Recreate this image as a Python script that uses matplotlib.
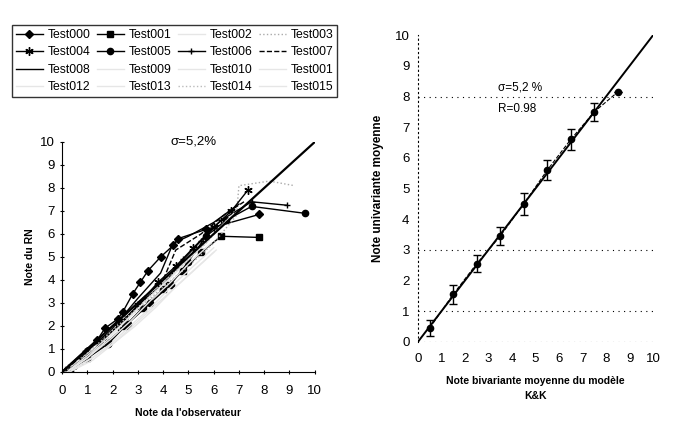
import matplotlib
matplotlib.use('Agg')
import matplotlib.pyplot as plt

plt.rcParams['font.family'] = ['Liberation Sans', 'DejaVu Sans']

# left panel: network score vs observer score, one series per test
series_names = ['Test000', 'Test001', 'Test002', 'Test003', 'Test004', 'Test005',
                'Test006', 'Test007', 'Test008', 'Test009', 'Test010', 'Test001',
                'Test012', 'Test013', 'Test014', 'Test015']
series_x = [
    [0.1, 0.5, 1.0, 1.4, 1.7, 2.2, 2.4, 2.8, 3.1, 3.4, 3.9, 4.4, 4.6, 5.7, 7.8],
    [0.3, 1.0, 1.8, 2.5, 3.2, 4.0, 4.8, 5.5, 6.3, 7.8],
    [0.2, 1.0, 2.0, 3.0, 4.0, 5.0, 6.0, 7.0],
    [0.0, 1.0, 2.0, 3.0, 4.0, 5.0, 6.0, 6.9, 7.0, 8.2, 9.2],
    [0.3, 0.8, 1.5, 2.2, 3.0, 3.8, 4.5, 5.2, 6.0, 6.7, 7.35],
    [0.2, 1.0, 1.8, 2.6, 3.5, 4.3, 5.0, 5.7, 6.5, 7.5, 9.6],
    [0.1, 0.9, 1.7, 2.5, 3.3, 4.1, 4.8, 5.5, 6.3, 7.5, 8.9],
    [0.2, 1.0, 2.0, 3.0, 4.0, 4.5, 5.5, 6.5, 7.2],
    [0.1, 1.0, 2.0, 3.0, 3.9, 4.4, 5.0, 6.0, 7.0],
    [0.3, 1.2, 2.0, 2.8, 3.6, 4.4, 5.2, 6.0],
    [0.2, 1.1, 1.9, 2.7, 3.5, 4.3, 5.1, 5.9],
    [0.4, 1.3, 2.1, 2.9, 3.7, 4.5, 5.3, 6.1],
    [0.2, 1.0, 1.8, 2.6, 3.4, 4.2, 5.0, 5.8],
    [0.3, 1.1, 1.9, 2.7, 3.5, 4.3, 5.1, 5.9, 6.8],
    [0.1, 0.9, 1.7, 2.5, 3.3, 4.1, 4.9, 5.7, 6.6],
    [0.3, 1.2, 2.0, 2.8, 3.6, 4.4, 5.2, 6.0],
]
series_y = [
    [0.0, 0.3, 0.9, 1.4, 1.9, 2.3, 2.6, 3.4, 3.9, 4.4, 5.0, 5.5, 5.8, 6.2, 6.85],
    [0.0, 0.6, 1.3, 2.0, 2.8, 3.6, 4.4, 5.2, 5.9, 5.85],
    [0.1, 0.8, 1.7, 2.8, 3.9, 5.0, 6.0, 7.0],
    [0.1, 0.9, 1.8, 2.7, 3.7, 4.6, 5.6, 6.8, 8.1, 8.3, 8.1],
    [0.1, 0.5, 1.2, 2.0, 2.9, 3.9, 4.6, 5.4, 6.3, 7.0, 7.9],
    [0.0, 0.6, 1.2, 2.1, 3.0, 3.8, 4.8, 5.9, 6.6, 7.2, 6.9],
    [0.1, 0.9, 1.5, 2.3, 3.2, 3.9, 4.9, 5.7, 6.6, 7.4, 7.25],
    [0.1, 1.0, 2.0, 3.0, 4.0, 5.3, 6.0, 6.9, 7.4],
    [0.1, 0.9, 1.9, 3.2, 4.3, 5.6, 5.9, 6.5, 7.3],
    [0.0, 0.6, 1.3, 2.1, 2.9, 3.8, 4.6, 5.4],
    [0.0, 0.7, 1.4, 2.2, 3.1, 3.9, 4.8, 5.6],
    [0.1, 0.7, 1.3, 2.0, 2.8, 3.7, 4.5, 5.3],
    [0.0, 0.6, 1.4, 2.3, 3.2, 4.0, 4.9, 5.7],
    [0.1, 0.8, 1.6, 2.4, 3.3, 4.1, 5.0, 5.9, 6.9],
    [0.0, 0.7, 1.5, 2.3, 3.1, 4.0, 4.8, 5.6, 6.7],
    [0.0, 0.5, 1.2, 2.0, 2.8, 3.6, 4.4, 5.2],
]
series_marker = ['D', 's', '', '', (6, 2, 0), 'o', '+', '', '', '', '', '', '', '', '', '']
series_style = ['-', '-', '-', ':', '-', '-', '-', '--', '-', '-', '-', '-', '-', '-', ':', '-']
series_color = ['black', 'black', '#e6e6e6', '#aaaaaa', 'black', 'black', 'black',
                'black', 'black', '#e6e6e6', '#e6e6e6', '#e6e6e6', '#e6e6e6',
                '#e6e6e6', '#bbbbbb', '#e6e6e6']

# right panel: mean univariate score vs mean bivariate score
kk_x = [0.5, 1.5, 2.5, 3.5, 4.5, 5.5, 6.5, 7.5, 8.5]
kk_y = [0.45, 1.55, 2.55, 3.45, 4.5, 5.6, 6.6, 7.5, 8.15]
kk_err = [0.25, 0.3, 0.28, 0.3, 0.35, 0.32, 0.33, 0.3, 0.0]
ref_line = [0, 10]
grid_levels = [0, 1, 3, 8]
ticks = list(range(0, 11))

fig = plt.figure(figsize=(6.74, 4.29), dpi=100)

ax1 = fig.add_axes([0.092, 0.133, 0.375, 0.536])
handles = []
for i, name in enumerate(series_names):
    h, = ax1.plot(series_x[i], series_y[i], linestyle=series_style[i],
                  color=series_color[i], marker=series_marker[i],
                  markersize=4.5 if series_marker[i] != (6, 2, 0) else 6,
                  linewidth=1.0, label=name)
    handles.append(h)
ax1.plot(ref_line, ref_line, color='black', linewidth=1.6)
ax1.set_xlim(0, 10)
ax1.set_ylim(0, 10)
ax1.set_xticks(ticks)
ax1.set_yticks(ticks)
ax1.spines['top'].set_visible(False)
ax1.spines['right'].set_visible(False)
ax1.tick_params(labelsize=9.5, length=3, direction='inout')
ax1.tick_params(axis='x', pad=8)
ax1.set_xlabel("Note da l'observateur", fontsize=7.5, fontweight='bold', labelpad=8)
ax1.set_ylabel('Note du RN', fontsize=7.5, fontweight='bold', labelpad=4)
ax1.text(5.2, 10.0, '\u03c3=5,2%', ha='center', va='center', fontsize=9.5)

# legend is filled row by row in the reference, matplotlib fills by column
ncol = 4
order = [r * ncol + c for c in range(ncol) for r in range(len(series_names) // ncol)]
fig.legend(handles=[handles[k] for k in order], labels=[series_names[k] for k in order],
           ncol=ncol, loc='lower left',
           bbox_to_anchor=(0.018, 0.774, 0.482, 0.203), mode='expand',
           fontsize=8.8, frameon=True, fancybox=False, edgecolor='black',
           handlelength=2.2, handletextpad=0.4, columnspacing=0.6,
           borderaxespad=0, labelspacing=0.45, borderpad=0.3)

ax2 = fig.add_axes([0.620, 0.203, 0.349, 0.715])
for lvl in grid_levels:
    ax2.axhline(lvl, color='black', linestyle=(0, (1, 4)), linewidth=0.8)
ax2.plot(ref_line, ref_line, color='black', linewidth=1.4)
ax2.errorbar(kk_x, kk_y, yerr=kk_err, fmt='o', color='black', markersize=4.5,
             ecolor='black', elinewidth=1.0, capsize=3, linestyle='--', linewidth=0.8)
ax2.set_xlim(0, 10)
ax2.set_ylim(0, 10)
ax2.set_xticks(ticks)
ax2.set_yticks(ticks)
for side in ['top', 'right', 'bottom']:
    ax2.spines[side].set_visible(False)
ax2.spines['left'].set_linestyle((0, (1, 3)))
ax2.tick_params(labelsize=9.5, length=0)
ax2.tick_params(axis='x', pad=8)
ax2.tick_params(axis='y', pad=6)
ax2.set_xlabel('Note bivariante moyenne du mod\u00e8le\nK&K', fontsize=7.5,
               fontweight='bold', labelpad=8, linespacing=1.6)
ax2.set_ylabel('Note univariante moyenne', fontsize=8.5, fontweight='bold', labelpad=8)
ax2.text(3.4, 8.3, '\u03c3=5,2 %', ha='left', va='center', fontsize=8.5)
ax2.text(3.4, 7.6, 'R=0.98', ha='left', va='center', fontsize=8.5)

fig.savefig('out.png', dpi=100)
